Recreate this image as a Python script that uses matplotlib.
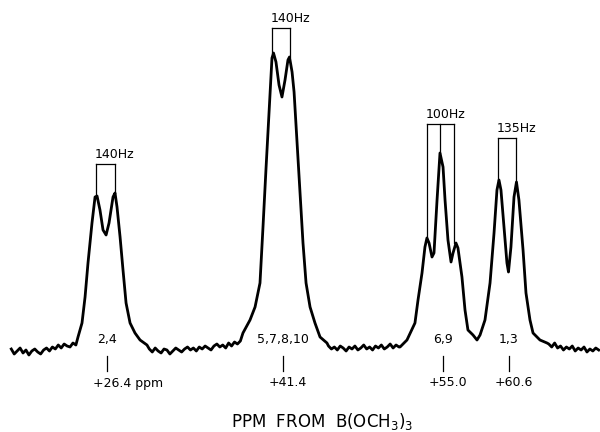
import numpy as np
import matplotlib.pyplot as plt

# 11B NMR trace: shift in ppm from B(OCH3)3, intensity in arbitrary units
ppm = [18.25, 18.5, 18.75, 19.0, 19.25, 19.5, 19.75, 20.0, 20.25, 20.5, 20.75, 21.0,
       21.25, 21.5, 21.75, 22.0, 22.25, 22.5, 22.75, 23.0, 23.25, 23.5, 23.75,
       # 2,4
       23.93, 24.27, 24.53, 24.78, 25.12, 25.38, 25.55, 25.80, 26.06, 26.32, 26.57,
       26.91, 27.08, 27.25, 27.51, 27.76, 28.02, 28.36, 28.78, 29.21, 29.80,
       30.0, 30.25, 30.5, 30.75, 31.0, 31.25, 31.5, 31.75, 32.0, 32.25, 32.5, 32.75,
       33.0, 33.25, 33.5, 33.75, 34.0, 34.25, 34.5, 34.75, 35.0, 35.25, 35.5, 35.75,
       36.0, 36.25, 36.5, 36.75, 37.0, 37.25, 37.5, 37.75,
       # 5,7,8,10
       37.97, 38.57, 39.00, 39.42, 39.68, 39.93, 40.19, 40.44, 40.57, 40.78, 41.04,
       41.29, 41.55, 41.80, 41.93, 42.15, 42.32, 42.57, 42.83, 43.08, 43.34, 43.68,
       44.10, 44.53, 45.12,
       45.25, 45.5, 45.75, 46.0, 46.25, 46.5, 46.75, 47.0, 47.25, 47.5, 47.75, 48.0,
       48.25, 48.5, 48.75, 49.0, 49.25, 49.5, 49.75, 50.0, 50.25, 50.5, 50.75, 51.0, 51.25,
       # 6,9 and 1,3
       51.34, 51.93, 52.61, 52.87, 53.21, 53.46, 53.63, 53.81, 54.06, 54.23, 54.49,
       54.74, 55.00, 55.17, 55.42, 55.68, 55.85, 56.10, 56.27, 56.61, 56.87, 57.12,
       57.55, 57.89, 58.15, 58.57, 59.00, 59.34, 59.59, 59.76, 59.93, 60.19, 60.44,
       60.57, 60.78, 61.04, 61.25, 61.46, 61.81, 62.06, 62.40, 62.66, 63.25, 63.85,
       64.0, 64.25, 64.5, 64.75, 65.0, 65.25, 65.5, 65.75, 66.0, 66.25, 66.5, 66.75,
       67.0, 67.25, 67.5, 67.75, 68.0, 68.25]
intensity = [3, -2, 1, 4, -1, 2, -3, 1, 3, 0, -2, 2,
             4, 1, 5, 3, 7, 4, 8, 6, 5, 9, 7,
             15, 29, 55, 89, 129, 155, 156, 142, 122, 117, 129,
             155, 159, 145, 115, 82, 49, 29, 19, 12, 7,
             3, 0, 4, 1, -1, 3, 2, -2, 1, 4, 2, 0,
             3, 5, 2, 4, 1, 5, 3, 6, 4, 2, 6, 8,
             5, 7, 4, 9, 6, 10, 8, 11,
             19, 32, 45, 69, 126, 183, 240, 294, 299, 290, 267,
             255, 272, 292, 295, 280, 260, 210, 159, 109, 69, 45,
             29, 15, 9,
             6, 3, 5, 2, 6, 4, 1, 5, 3, 6, 2, 4,
             7, 3, 5, 2, 6, 4, 7, 3, 5, 8, 4, 7, 5,
             5, 12, 29, 52, 79, 105, 114, 109, 95, 99, 152,
             199, 185, 152, 112, 90, 99, 109, 104, 75, 42, 22,
             17, 12, 17, 32, 69, 119, 162, 172, 162, 125, 89,
             80, 105, 155, 170, 152, 102, 59, 32, 19, 12, 9,
             8, 5, 9, 4, 6, 2, 5, 3, 6, 1, 4, 2,
             5, 0, 3, 1, 4, 2]

# assignments under each band
assign = ["2,4", "5,7,8,10", "6,9", "1,3"]
shift = [26.4, 41.4, 55.0, 60.6]
shift_text = ["+26.4 ppm", "+41.4", "+55.0", "+60.6"]

# coupling brackets over each band
j_text = ["140Hz", "140Hz", "100Hz", "135Hz"]
j_lines = [[25.46, 27.08], [40.44, 41.97], [53.63, 54.74, 55.93], [59.68, 61.21]]
j_tops = [[156, 159], [299, 295], [114, 199, 109], [172, 170]]
j_bar = [188, 324, 228, 214]

fig = plt.figure(figsize=(6, 4.32), dpi=100)
ax = fig.add_axes([0, 0, 1, 1])
ax.set_xlim(17.29, 68.36)
ax.set_ylim(-80, 352)
ax.axis("off")

ax.plot(ppm, intensity, color="black", lw=2.0, solid_joinstyle="round")

fs = 9
for lab, s, st in zip(assign, shift, shift_text):
    ax.text(s, 12, lab, ha="center", va="center", fontsize=fs)
    ax.plot([s, s], [-4, -19], color="black", lw=0.9)
    if st.endswith("ppm"):
        ax.text(s - 1.2, -31, st, ha="left", va="center", fontsize=fs)
    else:
        ax.text(s + 0.4, -30, st, ha="center", va="center", fontsize=fs)

for txt, xs, tops, bar in zip(j_text, j_lines, j_tops, j_bar):
    ax.plot([xs[0], xs[-1]], [bar, bar], color="black", lw=0.9)
    for x, t in zip(xs, tops):
        ax.plot([x, x], [bar, t], color="black", lw=0.9)
    ax.text(xs[0] - 0.1, bar + 9, txt, ha="left", va="center", fontsize=fs)

ax.text(44.7, -69, "PPM  FROM  B(OCH$_3$)$_3$", ha="center", va="center", fontsize=12)

fig.savefig("out.png", dpi=100)
